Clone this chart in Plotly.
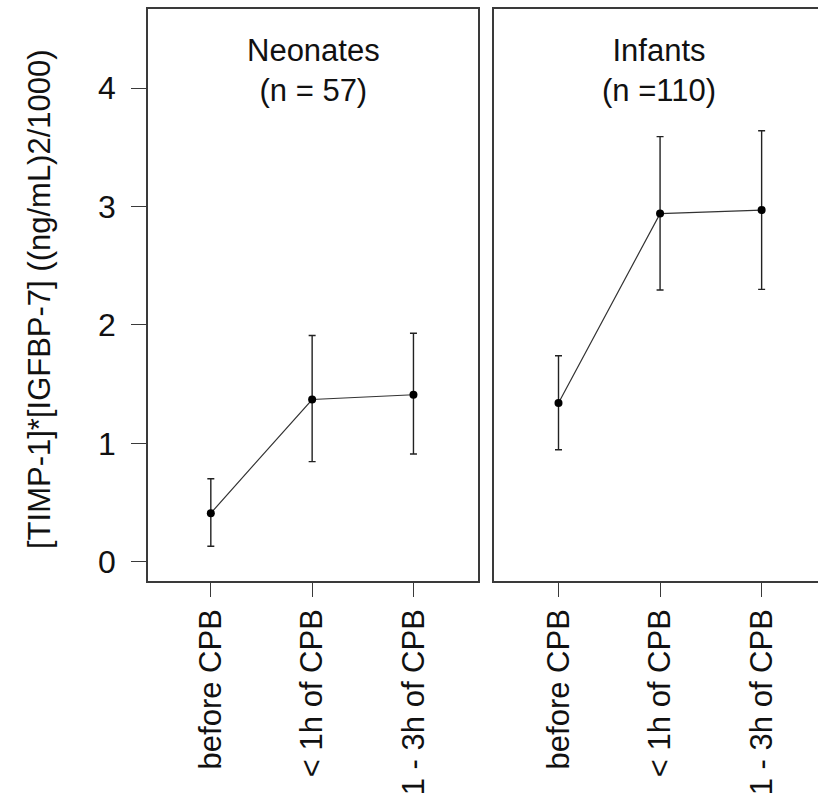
import plotly.graph_objects as go

categories = ["before CPB", "< 1h of CPB", "1 - 3h of CPB"]
xpos = [1, 2, 3]

neo_mean = [0.41, 1.37, 1.41]
neo_upper = [0.70, 1.91, 1.93]
neo_lower = [0.13, 0.845, 0.91]

inf_mean = [1.34, 2.94, 2.97]
inf_upper = [1.74, 3.59, 3.64]
inf_lower = [0.945, 2.295, 2.30]

titles = ["Neonates<br>(n = 57)", "Infants<br>(n =110)"]
y_title = "[TIMP-1]*[IGFBP-7] ((ng/mL)2/1000)"
y_ticks = [0, 1, 2, 3, 4]

FONT = "Liberation Sans, Arial, sans-serif"
AX = "#3a3a3a"

W, H = 818, 797
ML, MR, MT, MB = 148, 0, 9, 216
pw = W - ML - MR
ph = H - MT - MB

def px2paper_x(px):
    return (px - ML) / pw

def px2paper_y(py):
    return (H - MB - py) / ph

fig = go.Figure()

for i, (m, u, l) in enumerate([(neo_mean, neo_upper, neo_lower), (inf_mean, inf_upper, inf_lower)]):
    xa = "x" if i == 0 else "x2"
    ya = "y" if i == 0 else "y2"
    fig.add_trace(go.Scatter(
        x=xpos, y=m, xaxis=xa, yaxis=ya, mode="lines+markers",
        line=dict(color="#333333", width=1.2),
        marker=dict(color="#000000", size=8),
        error_y=dict(type="data", symmetric=False,
                     array=[a - b for a, b in zip(u, m)],
                     arrayminus=[b - c for b, c in zip(m, l)],
                     color="#222222", thickness=1.4, width=3.5),
        showlegend=False, hoverinfo="skip",
    ))

left_dom = [0, px2paper_x(478)]
right_dom = [px2paper_x(493.5), 1]
yr = [-0.163, 4.668]

common_x = dict(tickmode="array", tickvals=xpos, ticktext=categories, tickangle=-90,
                ticks="outside", ticklen=14, tickcolor=AX, tickwidth=1.3,
                showline=True, linecolor=AX, linewidth=1.5, mirror=True,
                showgrid=False, zeroline=False, automargin=False,
                tickfont=dict(family=FONT, size=31, color="#111111"),
                ticklabelstandoff=0)

fig.update_layout(
    width=W, height=H,
    margin=dict(l=ML, r=MR, t=MT, b=MB, autoexpand=False),
    paper_bgcolor="white", plot_bgcolor="white",
    xaxis=dict(domain=left_dom, range=[0.38, 3.637], **common_x),
    xaxis2=dict(domain=right_dom, range=[0.36, 3.555], anchor="y2", **common_x),
    yaxis=dict(range=yr, tickmode="array", tickvals=y_ticks, ticks="outside", ticklen=15,
               tickcolor=AX, tickwidth=1.3, showline=True, linecolor=AX, linewidth=1.5,
               mirror=True, showgrid=False, zeroline=False, automargin=False,
               tickfont=dict(family=FONT, size=32, color="#111111"),
               ticklabelstandoff=9),
    yaxis2=dict(range=yr, anchor="x2", showticklabels=False, ticks="", showline=True,
                linecolor=AX, linewidth=1.5, mirror=False, showgrid=False, zeroline=False,
                automargin=False),
)

centers = [(148 + 478) / 2, (493.5 + 825) / 2]
for c, t in zip(centers, titles):
    fig.add_annotation(text=t, x=px2paper_x(c), y=px2paper_y(70), xref="paper", yref="paper",
                       xanchor="center", yanchor="middle", showarrow=False,
                       font=dict(family=FONT, size=31, color="#111111"))

fig.add_annotation(text=y_title, x=px2paper_x(39), y=px2paper_y(299), xref="paper", yref="paper",
                   xanchor="center", yanchor="middle", textangle=-90, showarrow=False,
                   font=dict(family=FONT, size=31, color="#111111"))

fig.write_html("out.html")
